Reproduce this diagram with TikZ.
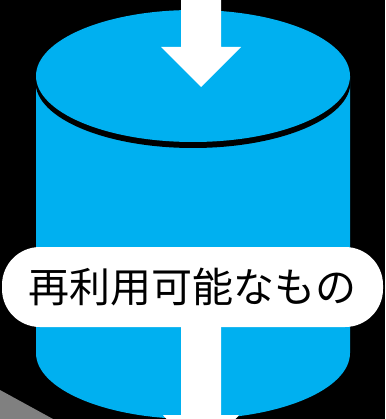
\documentclass[tikz,border=0pt]{standalone}
\usepackage{fontspec}
\newfontfamily\jafont{Noto Sans CJK JP}
\usetikzlibrary{positioning}
\definecolor{azul}{HTML}{00B0F0}
\definecolor{gris}{HTML}{808080}
\tikzstyle{cuerpo} = [fill=azul]
\tikzstyle{flecha} = [fill=white]
\tikzstyle{etiquetas} = [rectangle, rounded corners=38pt, minimum width=381pt, minimum height=80pt, fill=white, text=black, inner sep=0pt, font=\jafont\fontsize{41pt}{41pt}\selectfont]

\begin{document}
\begin{tikzpicture}[x=1pt, y=-1pt]
        \fill[black] (0,0) rectangle (385,419);
        \useasboundingbox (0,0) rectangle (385,419);
        \fill[gris] (0,390) -- (53,419) -- (0,419) -- cycle;

        \fill[cuerpo] (36,76) -- (36,353) arc[start angle=180, end angle=0, x radius=157, y radius=66] -- (350,76) -- cycle;
        \fill[black] (193,82) ellipse[x radius=157.5, y radius=66];
        \fill[cuerpo] (193,76) ellipse[x radius=157, y radius=66];

        \coordinate (entrada) at (201,0);
        \node (etiqueta) [etiquetas] at (192.5,287) {再利用可能なもの};

        \fill[flecha, shift={(entrada)}] (-20,0) -- (-20,47) -- (-40,47) -- (0,87) -- (40,47) -- (20,47) -- (20,0) -- cycle;
        \fill[flecha, shift={(etiqueta.south -| entrada)}] (-20,0) -- (-20,88) -- (-38,88) -- (0,128) -- (38,88) -- (20,88) -- (20,0) -- cycle;
    \end{tikzpicture}
\end{document}
